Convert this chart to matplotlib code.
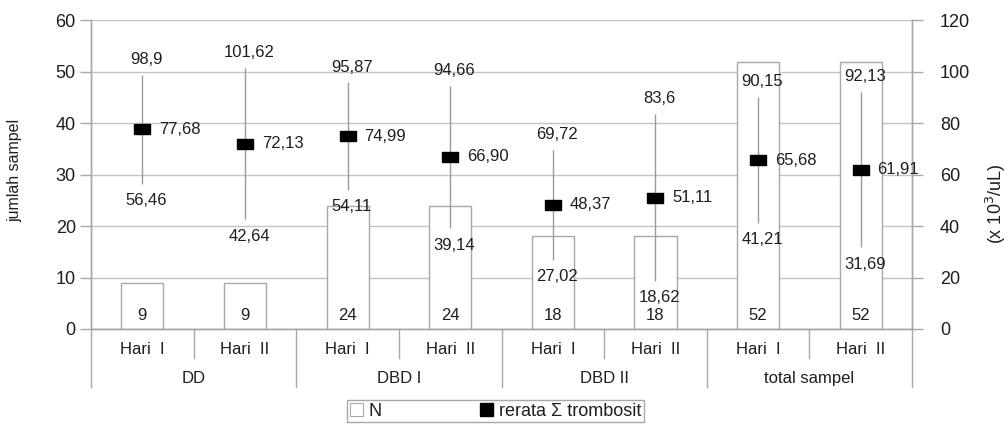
import numpy as np
import matplotlib.pyplot as plt
from matplotlib.patches import Patch
from matplotlib.lines import Line2D

plt.rcParams['font.family'] = ['Liberation Sans', 'DejaVu Sans']

# data
groups = ["DD", "DBD I", "DBD II", "total sampel"]
days = ["Hari  I", "Hari  II"]
n_sampel = [9, 9, 24, 24, 18, 18, 52, 52]
rerata = [77.68, 72.13, 74.99, 66.90, 48.37, 51.11, 65.68, 61.91]
tinggi = [98.9, 101.62, 95.87, 94.66, 69.72, 83.6, 90.15, 92.13]
rendah = [56.46, 42.64, 54.11, 39.14, 27.02, 18.62, 41.21, 31.69]

GRID = '#c4c4c4'
EDGE = '#a8a8a8'
TXT = '#1e1e1e'


def koma(v, fmt=None):
    s = format(v, fmt) if fmt else str(v)
    return s.replace('.', ',')


fig = plt.figure(figsize=(10.07, 4.25), dpi=100)
ax = fig.add_axes([0.0904, 0.2259, 0.8153, 0.7261])
ax2 = ax.twinx()

x = np.arange(len(n_sampel))

# bars (left axis)
ax.set_axisbelow(True)
ax.yaxis.grid(True, color=GRID, lw=1)
ax.bar(x, n_sampel, width=0.41, facecolor='white', edgecolor=EDGE, lw=1, zorder=2)
for xi, v in zip(x, n_sampel):
    ax.annotate(str(v), (xi, 0), xytext=(0, 10), textcoords='offset points',
                ha='center', va='center', fontsize=12, color=TXT, zorder=3)

ax.set_xlim(-0.5, len(n_sampel) - 0.5)
ax.set_ylim(0, 60)
ax.set_yticks(range(0, 61, 10))
ax.set_xticks([])
ax.tick_params(axis='y', length=8, width=1, color=EDGE, labelsize=13,
               labelcolor=TXT, pad=3)

# platelet ranges (right axis)
ax2.set_ylim(0, 120)
ax2.set_yticks(range(0, 121, 20))
ax2.tick_params(axis='y', length=8, width=1, color=EDGE, labelsize=13,
                labelcolor=TXT, pad=12)
ax2.vlines(x, rendah, tinggi, color='#9a9a9a', lw=1, zorder=2)
rect = [(-1, -0.6), (1, -0.6), (1, 0.6), (-1, 0.6), (-1, -0.6)]
ax2.plot(x, rerata, ls='none', marker=rect, ms=12, color='black', zorder=3)
for xi, m, hi, lo in zip(x, rerata, tinggi, rendah):
    ax2.annotate(koma(m, '.2f'), (xi, m), xytext=(12, 0), textcoords='offset points',
                 ha='left', va='center', fontsize=12, color=TXT)
    ax2.annotate(koma(hi), (xi, hi), xytext=(3, 11), textcoords='offset points',
                 ha='center', va='center', fontsize=12, color=TXT)
    ax2.annotate(koma(lo), (xi, lo), xytext=(3, -12), textcoords='offset points',
                 ha='center', va='center', fontsize=12, color=TXT)

for a in (ax, ax2):
    a.spines['top'].set_visible(False)
    for s in ('left', 'right', 'bottom'):
        a.spines[s].set_color(EDGE)
        a.spines[s].set_linewidth(1)

# two-level category axis
tr = ax.get_xaxis_transform()
for i, xi in enumerate(x):
    ax.text(xi, -0.065, days[i % 2], transform=tr, ha='center', va='center',
            fontsize=12, color=TXT)
for g, name in enumerate(groups):
    ax.text(2 * g + 0.5, -0.16, name, transform=tr, ha='center', va='center',
            fontsize=12, color=TXT)
for b in np.arange(-0.5, len(n_sampel), 1.0):
    if int(b + 0.5) % 2 == 0:
        y0 = -0.188
    else:
        y0 = -0.094
    ax.add_line(Line2D([b, b], [0, y0], transform=tr, color=EDGE, lw=1, clip_on=False))

fig.text(15 / 1007, 1 - 170 / 425, 'jumlah sampel', rotation=90, ha='center', va='center',
         fontsize=11.5, color=TXT, family=['Liberation Sans Narrow', 'Liberation Sans'])
fig.text(996 / 1007, 1 - 204 / 425, '(x 10$^3$/uL)', rotation=90, ha='center', va='center',
         fontsize=13, color=TXT, family=['Liberation Sans Narrow', 'Liberation Sans'])

handles = [Patch(facecolor='white', edgecolor=EDGE, lw=0.8),
           Patch(facecolor='black', edgecolor='black')]
leg = fig.legend(handles, ['N', 'rerata Σ trombosit'], ncol=2, loc='upper center',
                 bbox_to_anchor=(0.492, 1 - 400 / 425), fontsize=13, frameon=True,
                 fancybox=False, edgecolor=EDGE, framealpha=1, handlelength=0.7,
                 handleheight=0.7, handletextpad=0.3, columnspacing=5.5,
                 borderpad=0.15, borderaxespad=0, labelcolor=TXT)
leg.get_frame().set_linewidth(1)

fig.savefig('out.png', dpi=100)
